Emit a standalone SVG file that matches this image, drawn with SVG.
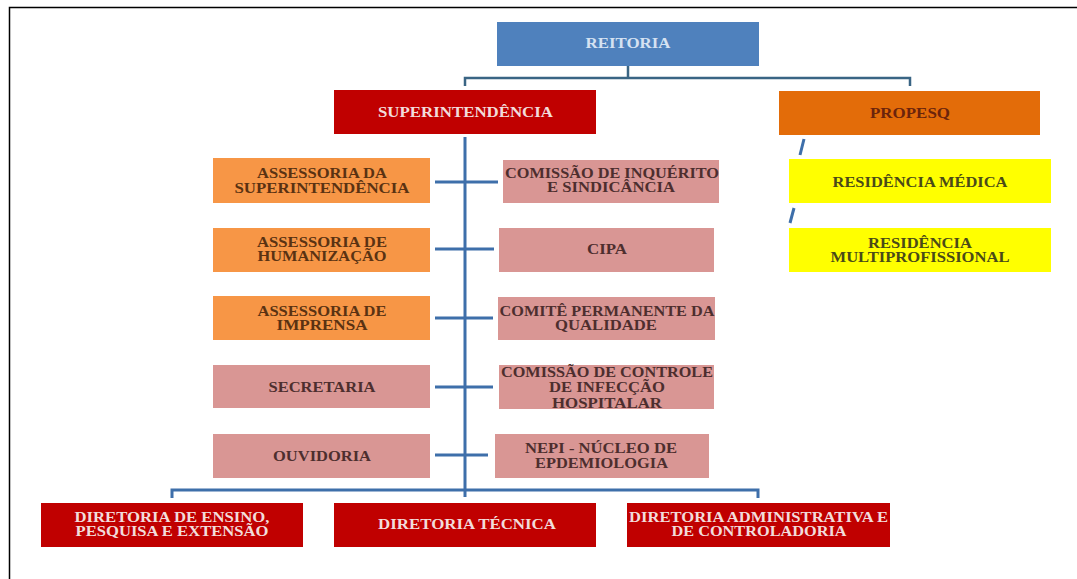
<svg xmlns="http://www.w3.org/2000/svg" width="1077" height="579" viewBox="0 0 1077 579">
<style>
  text { font-family: "Liberation Serif", "Times New Roman", serif; font-weight: bold; font-size: 15px; text-anchor: middle; }
  .blue { fill: #4F81BD; }
  .red { fill: #C00000; }
  .orange { fill: #F79646; }
  .dorange { fill: #E36C09; }
  .pink { fill: #D99694; }
  .yellow { fill: #FFFF00; }
  .tl { fill: #D5E2F2; }
  .tw { fill: #F2DCDB; }
  .to { fill: #5A3212; }
  .tp { fill: #4D2E2E; }
  .tpr { fill: #6B240C; }
  .ty { fill: #4A4A18; }
  .c1 { stroke: #3A6584; stroke-width: 2.5; fill: none; }
  .c2 { stroke: #3E6FAA; stroke-width: 3; fill: none; }
</style>
<rect x="0" y="0" width="1077" height="579" fill="#FFFFFF"/>
<path d="M9.5 579 V7.5 H1077" fill="none" stroke="#000" stroke-width="1.5"/>

<g id="connectors">
  <path class="c1" d="M628 66 V78 M465 86 V78 H910 V86"/>
  <path class="c2" d="M465 137 V497"/>
  <path class="c2" d="M435 182 H498 M435 249 H494 M435 318 H493 M435 387 H493 M435 455 H488"/>
  <path class="c2" d="M172 498 V490 H758 V498"/>
  <path class="c2" d="M804 139 L800 155 M794 208 L790 223"/>
</g>

<g id="reitoria"><rect class="blue" x="497" y="22" width="262" height="44"/><text class="tl" x="628" y="48" textLength="85" lengthAdjust="spacingAndGlyphs">REITORIA</text></g>
<g id="superintendencia"><rect class="red" x="334" y="90" width="262" height="44"/><text class="tw" x="465.5" y="117" textLength="175" lengthAdjust="spacingAndGlyphs">SUPERINTENDÊNCIA</text></g>
<g id="propesq"><rect class="dorange" x="779" y="91" width="261" height="44"/><text class="tpr" x="910" y="118" textLength="80" lengthAdjust="spacingAndGlyphs">PROPESQ</text></g>

<g id="assessoria-superintendencia"><rect class="orange" x="213" y="158" width="217" height="45"/><text class="to" x="322" y="178" textLength="130" lengthAdjust="spacingAndGlyphs">ASSESSORIA DA</text><text class="to" x="322" y="193" textLength="175" lengthAdjust="spacingAndGlyphs">SUPERINTENDÊNCIA</text></g>
<g id="assessoria-humanizacao"><rect class="orange" x="213" y="228" width="217" height="44"/><text class="to" x="322" y="247" textLength="130" lengthAdjust="spacingAndGlyphs">ASSESSORIA DE</text><text class="to" x="322" y="261" textLength="129" lengthAdjust="spacingAndGlyphs">HUMANIZAÇÃO</text></g>
<g id="assessoria-imprensa"><rect class="orange" x="213" y="296" width="217" height="44"/><text class="to" x="322" y="316" textLength="129" lengthAdjust="spacingAndGlyphs">ASSESSORIA DE</text><text class="to" x="322" y="330" textLength="91" lengthAdjust="spacingAndGlyphs">IMPRENSA</text></g>
<g id="secretaria"><rect class="pink" x="213" y="365" width="217" height="43"/><text class="tp" x="322" y="392" textLength="107" lengthAdjust="spacingAndGlyphs">SECRETARIA</text></g>
<g id="ouvidoria"><rect class="pink" x="213" y="434" width="217" height="44"/><text class="tp" x="322" y="461" textLength="98" lengthAdjust="spacingAndGlyphs">OUVIDORIA</text></g>

<g id="comissao-inquerito"><rect class="pink" x="503" y="160" width="216" height="43"/><text class="tp" x="612" y="178" textLength="214" lengthAdjust="spacingAndGlyphs">COMISSÃO DE INQUÉRITO</text><text class="tp" x="611" y="192" textLength="128" lengthAdjust="spacingAndGlyphs">E SINDICÂNCIA</text></g>
<g id="cipa"><rect class="pink" x="499" y="228" width="215" height="44"/><text class="tp" x="607" y="254" textLength="40" lengthAdjust="spacingAndGlyphs">CIPA</text></g>
<g id="comite-qualidade"><rect class="pink" x="498" y="297" width="217" height="43"/><text class="tp" x="607" y="316" textLength="215" lengthAdjust="spacingAndGlyphs">COMITÊ PERMANENTE DA</text><text class="tp" x="606" y="330" textLength="102" lengthAdjust="spacingAndGlyphs">QUALIDADE</text></g>
<g id="comissao-infeccao"><rect class="pink" x="499" y="365" width="215" height="44"/><text class="tp" x="607" y="377" textLength="212" lengthAdjust="spacingAndGlyphs">COMISSÃO DE CONTROLE</text><text class="tp" x="607" y="392" textLength="116" lengthAdjust="spacingAndGlyphs">DE INFECÇÃO</text><text class="tp" x="607" y="408" textLength="110" lengthAdjust="spacingAndGlyphs">HOSPITALAR</text></g>
<g id="nepi"><rect class="pink" x="495" y="434" width="214" height="44"/><text class="tp" x="601" y="453" textLength="152" lengthAdjust="spacingAndGlyphs">NEPI - NÚCLEO DE</text><text class="tp" x="601.5" y="468" textLength="133" lengthAdjust="spacingAndGlyphs">EPDEMIOLOGIA</text></g>

<g id="residencia-medica"><rect class="yellow" x="789" y="159" width="262" height="44"/><text class="ty" x="920" y="187" textLength="175" lengthAdjust="spacingAndGlyphs">RESIDÊNCIA MÉDICA</text></g>
<g id="residencia-multi"><rect class="yellow" x="789" y="228" width="262" height="44"/><text class="ty" x="920" y="248" textLength="104" lengthAdjust="spacingAndGlyphs">RESIDÊNCIA</text><text class="ty" x="920" y="262" textLength="179" lengthAdjust="spacingAndGlyphs">MULTIPROFISSIONAL</text></g>

<g id="diretoria-ensino"><rect class="red" x="41" y="503" width="262" height="44"/><text class="tw" x="172" y="522" textLength="195" lengthAdjust="spacingAndGlyphs">DIRETORIA DE ENSINO,</text><text class="tw" x="172" y="536" textLength="193" lengthAdjust="spacingAndGlyphs">PESQUISA E EXTENSÃO</text></g>
<g id="diretoria-tecnica"><rect class="red" x="334" y="503" width="262" height="44"/><text class="tw" x="467" y="529" textLength="178" lengthAdjust="spacingAndGlyphs">DIRETORIA TÉCNICA</text></g>
<g id="diretoria-administrativa"><rect class="red" x="627" y="503" width="263" height="44"/><text class="tw" x="758.5" y="522" textLength="259" lengthAdjust="spacingAndGlyphs">DIRETORIA ADMINISTRATIVA E</text><text class="tw" x="759" y="536" textLength="175" lengthAdjust="spacingAndGlyphs">DE CONTROLADORIA</text></g>
</svg>
